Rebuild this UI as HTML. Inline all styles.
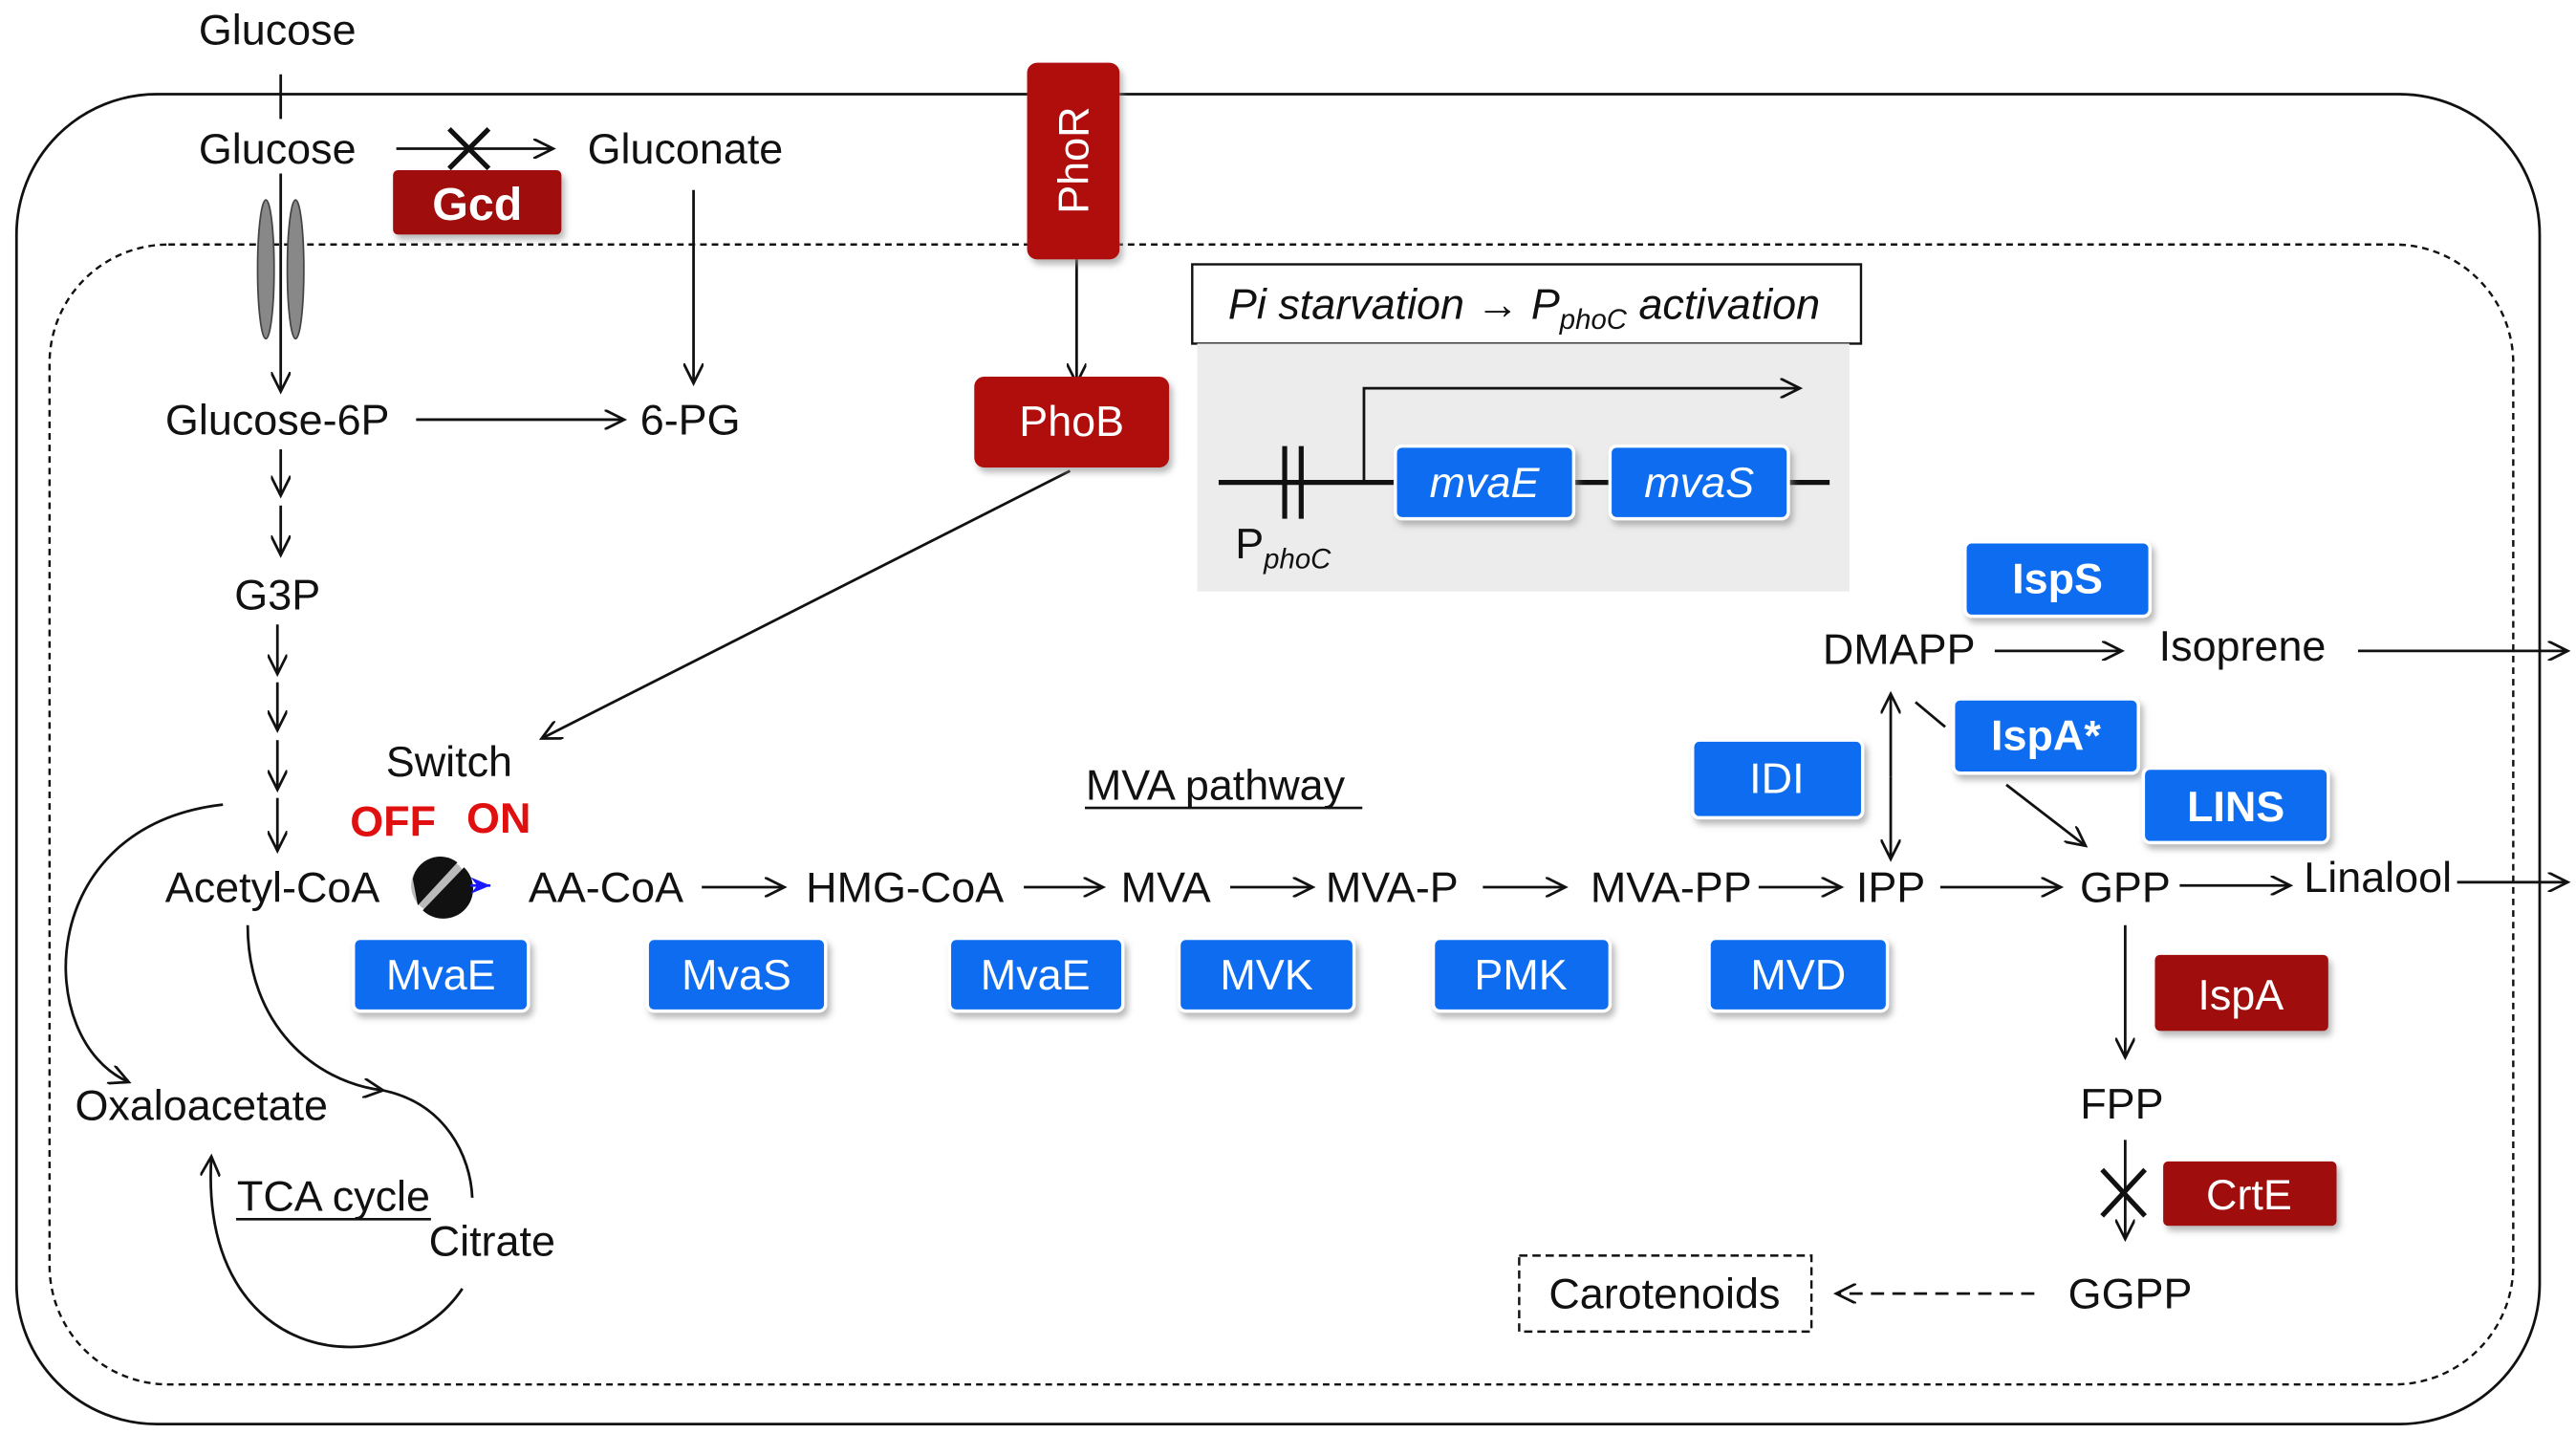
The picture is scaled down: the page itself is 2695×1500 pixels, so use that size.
<!DOCTYPE html>
<html><head><meta charset="utf-8"><style>
html,body{margin:0;padding:0;background:#fff;}
svg{display:block;}
text{font-family:"Liberation Sans",Arial,sans-serif;font-size:26px;fill:#111;}
.w{fill:#fff;text-anchor:middle;}
.c{text-anchor:middle;}
.b{font-weight:bold;}
</style></head><body>
<svg width="2695" height="1500" viewBox="0 0 1560 868" preserveAspectRatio="none" xmlns="http://www.w3.org/2000/svg">
<defs>
<marker id="a" markerWidth="14" markerHeight="12" refX="12" refY="6" orient="auto" markerUnits="userSpaceOnUse"><path d="M0,0 L12,6 L0,12" fill="none" stroke="#111" stroke-width="1.6"/></marker>
<marker id="ab" markerWidth="14" markerHeight="12" refX="12" refY="6" orient="auto" markerUnits="userSpaceOnUse"><path d="M0,1 L12,6 L0,11 L4,6Z" fill="#1a1aff"/></marker>
<filter id="sh" x="-20%" y="-20%" width="140%" height="150%"><feDropShadow dx="2" dy="3" stdDeviation="2" flood-color="#888" flood-opacity="0.6"/></filter>
</defs>
<g fill="none" stroke="#111" stroke-width="1.6">
<rect x="10" y="57" width="1528" height="805" rx="85"/>
<rect x="30" y="148" width="1492" height="690" rx="72" stroke-dasharray="4,3" stroke-width="1.4"/>
</g>
<text class="c" x="168" y="27">Glucose</text>
<line x1="170" y1="45" x2="170" y2="72" stroke="#111" stroke-width="1.6"/>
<text class="c" x="168" y="99">Glucose</text>
<ellipse cx="161" cy="163" rx="5" ry="42" fill="#888" stroke="#444"/>
<ellipse cx="179" cy="163" rx="5" ry="42" fill="#888" stroke="#444"/>
<g stroke="#111" stroke-width="1.6" fill="none" marker-end="url(#a)">
<line x1="170" y1="105" x2="170" y2="237"/>
<line x1="240" y1="90" x2="335" y2="90"/>
<line x1="420" y1="115" x2="420" y2="232"/>
<line x1="252" y1="254" x2="378" y2="254"/>
<line x1="170" y1="272" x2="170" y2="300"/>
<line x1="170" y1="306" x2="170" y2="336"/>
<line x1="168" y1="378" x2="168" y2="408"/>
<line x1="168" y1="413" x2="168" y2="442"/>
<line x1="168" y1="448" x2="168" y2="478"/>
<line x1="168" y1="483" x2="168" y2="515"/>
<line x1="652" y1="157" x2="652" y2="232"/>
<line x1="648" y1="285" x2="328" y2="447"/>
<line x1="425" y1="537" x2="475" y2="537"/>
<line x1="620" y1="537" x2="668" y2="537"/>
<line x1="745" y1="537" x2="795" y2="537"/>
<line x1="898" y1="537" x2="948" y2="537"/>
<line x1="1065" y1="537" x2="1115" y2="537"/>
<line x1="1175" y1="537" x2="1248" y2="537"/>
<line x1="1320" y1="536" x2="1387" y2="536"/>
<line x1="1488" y1="534" x2="1555" y2="534"/>
<line x1="1208" y1="394" x2="1285" y2="394"/>
<line x1="1428" y1="394" x2="1555" y2="394"/>
<line x1="1145" y1="470" x2="1145" y2="420"/>
<line x1="1145" y1="470" x2="1145" y2="520"/>
<line x1="1215" y1="475" x2="1263" y2="512"/>
<line x1="1287" y1="560" x2="1287" y2="640"/>
<line x1="1287" y1="690" x2="1287" y2="750"/>
<line x1="1232" y1="783" x2="1112" y2="783" stroke-dasharray="8,5"/>
<path d="M135,487 C20,500 20,630 78,655"/>
<path d="M150,560 C150,620 190,655 232,660"/>
<path d="M280,780 C240,840 120,830 128,700"/>
</g>
<line x1="1160" y1="425" x2="1178" y2="440" stroke="#111" stroke-width="1.6"/>
<path d="M232,660 C270,668 285,700 286,725" fill="none" stroke="#111" stroke-width="1.6"/>
<path d="M272,78 L296,102 M296,78 L272,102" stroke="#111" stroke-width="3"/>
<path d="M1273,708 L1299,736 M1299,708 L1273,736" stroke="#111" stroke-width="3"/>
<g filter="url(#sh)">
<rect x="238" y="103" width="102" height="39" rx="3" fill="#a00f0f"/>
<rect x="622" y="38" width="56" height="119" rx="6" fill="#b01010"/>
<rect x="590" y="228" width="118" height="55" rx="6" fill="#b01010"/>
<rect x="1305" y="578" width="105" height="46" rx="3" fill="#a00f0f"/>
<rect x="1310" y="703" width="105" height="39" rx="3" fill="#a00f0f"/>
</g>
<text class="w b" x="289" y="133" style="font-size:28px">Gcd</text>
<text class="w" transform="translate(659,97) rotate(-90)">PhoR</text>
<text class="w" x="649" y="264">PhoB</text>
<text class="w" x="1357" y="611">IspA</text>
<text class="w" x="1362" y="732">CrtE</text>
<text class="c" x="415" y="99">Gluconate</text>
<text class="c" x="168" y="263">Glucose-6P</text>
<text class="c" x="418" y="263">6-PG</text>
<text class="c" x="168" y="369">G3P</text>
<text class="c" x="165" y="546">Acetyl-CoA</text>
<rect x="722" y="160" width="405" height="48" fill="#fff" stroke="#111" stroke-width="1.4"/>
<text class="c" x="923" y="193" font-style="italic">Pi starvation → P<tspan dy="6" style="font-size:17px">phoC</tspan><tspan dy="-6"> activation</tspan></text>
<rect x="725" y="208" width="395" height="150" fill="#ececec"/>
<line x1="738" y1="292" x2="1108" y2="292" stroke="#111" stroke-width="3"/>
<line x1="778" y1="270" x2="778" y2="314" stroke="#111" stroke-width="3"/>
<line x1="788" y1="270" x2="788" y2="314" stroke="#111" stroke-width="3"/>
<g stroke="#111" stroke-width="1.6" fill="none" marker-end="url(#a)"><polyline points="826,292 826,235 1090,235"/></g>
<text x="748" y="338">P<tspan dy="6" style="font-size:17px" font-style="italic">phoC</tspan></text>
<g filter="url(#sh)" fill="#0a6cf0" stroke="#fff" stroke-width="2">
<rect x="845" y="270" width="108" height="44" rx="4"/>
<rect x="975" y="270" width="108" height="44" rx="4"/>
<rect x="214" y="568" width="106" height="44" rx="4"/>
<rect x="392" y="568" width="108" height="44" rx="4"/>
<rect x="575" y="568" width="105" height="44" rx="4"/>
<rect x="714" y="568" width="106" height="44" rx="4"/>
<rect x="868" y="568" width="107" height="44" rx="4"/>
<rect x="1035" y="568" width="108" height="44" rx="4"/>
<rect x="1025" y="448" width="103" height="47" rx="4"/>
<rect x="1190" y="328" width="112" height="45" rx="4"/>
<rect x="1183" y="423" width="112" height="45" rx="4"/>
<rect x="1298" y="465" width="112" height="45" rx="4"/>
</g>
<text class="w" x="899" y="301" font-style="italic">mvaE</text>
<text class="w" x="1029" y="301" font-style="italic">mvaS</text>
<text class="w" x="267" y="599">MvaE</text>
<text class="w" x="446" y="599">MvaS</text>
<text class="w" x="627" y="599">MvaE</text>
<text class="w" x="767" y="599">MVK</text>
<text class="w" x="921" y="599">PMK</text>
<text class="w" x="1089" y="599">MVD</text>
<text class="w" x="1076" y="480">IDI</text>
<text class="w b" x="1246" y="359">IspS</text>
<text class="w b" x="1239" y="454">IspA*</text>
<text class="w b" x="1354" y="497">LINS</text>
<text class="c" x="272" y="470">Switch</text>
<text class="c b" x="238" y="506" style="fill:#e01010">OFF</text>
<text class="c b" x="302" y="504" style="fill:#e01010">ON</text>
<circle cx="266" cy="536" r="17" fill="#bbb"/>
<path d="M253,548 L277,522 A17,17 0 0 0 250,532Z" fill="#111"/>
<path d="M256,551 L281,525 A17,17 0 0 1 256,551Z" fill="#111"/>
<line x1="285" y1="536" x2="297" y2="536" stroke="#1a1aff" stroke-width="1.5" marker-end="url(#ab)"/>
<text class="c" x="367" y="546">AA-CoA</text>
<text class="c" x="548" y="546">HMG-CoA</text>
<text class="c" x="706" y="546">MVA</text>
<text class="c" x="843" y="546">MVA-P</text>
<text class="c" x="1012" y="546">MVA-PP</text>
<text class="c" x="1145" y="546">IPP</text>
<text class="c" x="1287" y="546">GPP</text>
<text class="c" x="1440" y="540">Linalool</text>
<text class="c" x="736" y="484">MVA pathway</text>
<line x1="657" y1="489" x2="825" y2="489" stroke="#111" stroke-width="1.5"/>
<text class="c" x="1150" y="402">DMAPP</text>
<text class="c" x="1358" y="400">Isoprene</text>
<text class="c" x="1285" y="677">FPP</text>
<text class="c" x="1290" y="792">GGPP</text>
<rect x="920" y="760" width="177" height="46" fill="none" stroke="#111" stroke-width="1.4" stroke-dasharray="5,3"/>
<text class="c" x="1008" y="792">Carotenoids</text>
<text class="c" x="122" y="678">Oxaloacetate</text>
<text class="c" x="298" y="760">Citrate</text>
<text class="c" x="202" y="733">TCA cycle</text>
<line x1="143" y1="738" x2="261" y2="738" stroke="#111" stroke-width="1.5"/>
</svg>
</body></html>
